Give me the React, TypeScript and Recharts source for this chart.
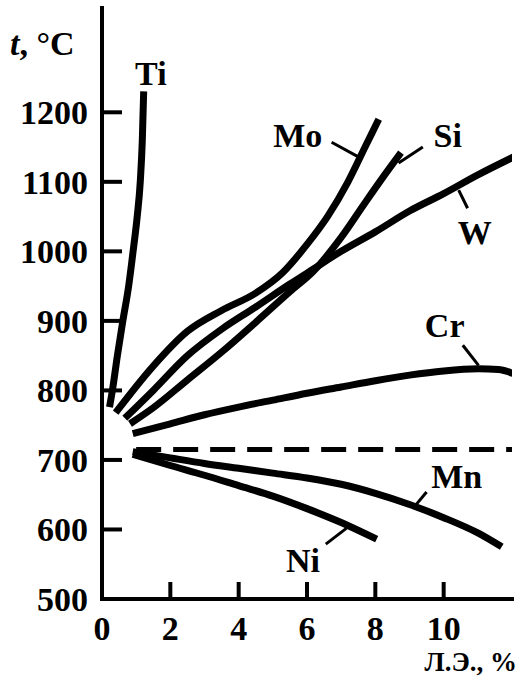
import React from 'react'
import { LineChart, Line, XAxis, YAxis, ReferenceDot, ReferenceLine, Customized } from 'recharts'

// температура (°C) от содержания легирующего элемента (Л.Э., %)
const tiX = [0.22, 0.32, 0.45, 0.61, 0.78, 0.91, 1.03, 1.12, 1.18, 1.22]
const tiY = [776, 805, 850, 900, 950, 1000, 1050, 1100, 1160, 1230]

const moX = [0.4, 1.5, 2.5, 3.5, 4.5, 5.3, 6.0, 6.6, 7.2, 7.7, 8.1]
const moY = [768, 835, 885, 915, 940, 970, 1010, 1050, 1100, 1150, 1190]

const wX = [0.67, 1.5, 2.5, 3.5, 4.5, 5.5, 6.2, 7, 8, 9, 10, 11, 12.1]
const wY = [760, 800, 850, 888, 920, 953, 975, 1000, 1028, 1058, 1083, 1110, 1137]

const siX = [0.82, 1.5, 2.5, 3.5, 4.5, 5.5, 6.2, 7, 7.7, 8.2, 8.75]
const siY = [752, 775, 815, 855, 898, 942, 972, 1020, 1070, 1105, 1142]

const crX = [0.9, 2, 3, 4, 5, 6, 7, 8, 9, 10, 11, 11.6, 12.1]
const crY = [738, 752, 765, 776, 786, 796, 805, 814, 822, 828, 831, 830, 823]

const dashX = [1.0, 12]
const dashY = [715, 715]

const mnX = [0.9, 2, 3, 4, 5, 6, 7, 8, 9, 10, 11, 11.7]
const mnY = [712, 703, 695, 688, 681, 674, 665, 652, 636, 617, 595, 575]

const niX = [0.9, 2, 3, 4, 5, 6, 7, 8.04]
const niY = [708, 692, 678, 663, 648, 630, 610, 586]

const xTicks = [0, 2, 4, 6, 8, 10]
const yTicks = [500, 600, 700, 800, 900, 1000, 1100, 1200]

// подписи кривых: [текст, x, y] и выноски [x1, y1, x2, y2]
const curveLabels: [string, number, number][] = [
  ['Ti', 1.43, 1256],
  ['Mo', 5.73, 1167],
  ['Si', 10.12, 1167],
  ['W', 10.91, 1028],
  ['Cr', 10.03, 894],
  ['Mn', 10.38, 677],
  ['Ni', 5.88, 556],
]
const leaders: [number, number, number, number][] = [
  [6.72, 1157, 7.57, 1134],
  [9.39, 1150, 8.68, 1127],
  [10.44, 1088, 10.7, 1062],
  [10.56, 865, 11.02, 836],
  [9.5, 654, 9.18, 635],
  [6.55, 579, 7.16, 602],
]

const toPoints = (xs: number[], ys: number[]) => xs.map((x, i) => ({ x, y: ys[i] }))

const series = [
  { name: 'Ti', data: toPoints(tiX, tiY) },
  { name: 'Mo', data: toPoints(moX, moY) },
  { name: 'W', data: toPoints(wX, wY) },
  { name: 'Si', data: toPoints(siX, siY) },
  { name: 'Cr', data: toPoints(crX, crY) },
  { name: 'Mn', data: toPoints(mnX, mnY) },
  { name: 'Ni', data: toPoints(niX, niY) },
]

const txt: React.CSSProperties = { fontFamily: "'Liberation Serif', serif", fontWeight: 700 }

const YTick = (props: any) => {
  const { x, y, payload } = props
  return (
    <g>
      {payload.value !== 500 && <line x1={x} x2={x + 20} y1={y} y2={y} stroke="#000" strokeWidth={4} />}
      <text x={x - 14} y={y + 12} textAnchor="end" style={{ ...txt, fontSize: 34 }} fill="#000">
        {payload.value}
      </text>
    </g>
  )
}

const XTick = (props: any) => {
  const { x, y, payload } = props
  return (
    <g>
      {payload.value !== 0 && <line x1={x} x2={x} y1={y} y2={y - 17} stroke="#000" strokeWidth={4} />}
      <text x={x} y={y + 41} textAnchor="middle" style={{ ...txt, fontSize: 34 }} fill="#000">
        {payload.value}
      </text>
    </g>
  )
}

const AxisTitles = () => (
  <g fill="#000">
    <text x={10} y={55} style={{ ...txt, fontSize: 34 }}>
      <tspan style={{ fontStyle: 'italic' }}>t</tspan>, °C
    </text>
    <text x={517} y={671} textAnchor="end" style={{ ...txt, fontSize: 27 }}>Л.Э., %</text>
  </g>
)

export default function App() {
  return (
    <div style={{ position: 'absolute', left: 0, top: 0, background: '#fff' }}>
      <LineChart width={528} height={680} margin={{ top: 8, right: 16, bottom: 0, left: 0 }}>
        <XAxis
          type="number"
          dataKey="x"
          domain={[0, 12]}
          ticks={xTicks}
          height={81}
          tickLine={false}
          tickSize={0}
          tickMargin={0}
          tick={(p: any) => <XTick {...p} />}
          axisLine={{ stroke: '#000', strokeWidth: 4, strokeLinecap: 'square' }}
          allowDataOverflow
        />
        <YAxis
          type="number"
          dataKey="y"
          domain={[500, 1350]}
          ticks={yTicks}
          width={102}
          tickLine={false}
          tickSize={0}
          tickMargin={0}
          tick={(p: any) => <YTick {...p} />}
          axisLine={{ stroke: '#000', strokeWidth: 4, strokeLinecap: 'square' }}
          allowDataOverflow
        />
        {series.map((s) => (
          <Line
            key={s.name}
            data={s.data}
            dataKey="y"
            type="monotone"
            stroke="#000"
            strokeWidth={7}
            dot={false}
            activeDot={false}
            isAnimationActive={false}
          />
        ))}
        <Line
          data={toPoints(dashX, dashY)}
          dataKey="y"
          type="linear"
          stroke="#000"
          strokeWidth={5}
          strokeDasharray="25 12"
          dot={false}
          activeDot={false}
          isAnimationActive={false}
        />
        {leaders.map((l, i) => (
          <ReferenceLine
            key={`ld-${i}`}
            segment={[{ x: l[0], y: l[1] }, { x: l[2], y: l[3] }]}
            stroke="#000"
            strokeWidth={3}
            ifOverflow="visible"
          />
        ))}
        {curveLabels.map(([t, x, y]) => (
          <ReferenceDot
            key={`lb-${t}`}
            x={x}
            y={y}
            ifOverflow="visible"
            shape={(p: any) => (
              <text x={p.cx} y={p.cy + 12} textAnchor="middle" style={{ ...txt, fontSize: 34 }} fill="#000">
                {t}
              </text>
            )}
          />
        ))}
        <Customized component={AxisTitles} />
      </LineChart>
    </div>
  )
}
